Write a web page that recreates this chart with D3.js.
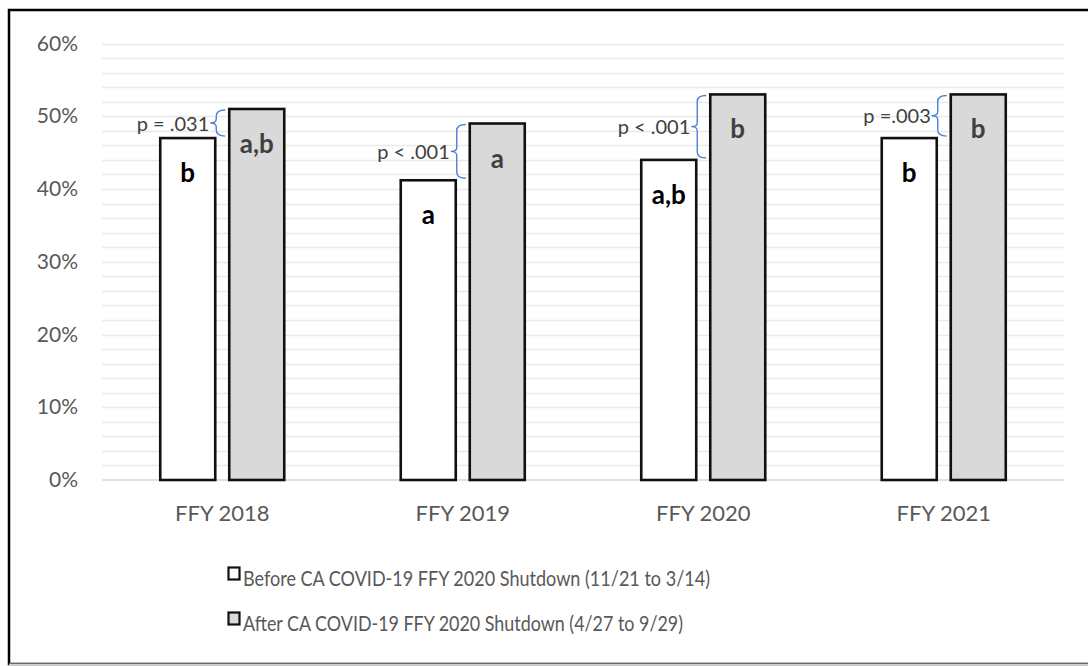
<!DOCTYPE html>
<html>
<head>
<meta charset="utf-8">
<script src="https://cdn.jsdelivr.net/npm/d3@7"></script>
<style>
  body { margin: 0; background: #fff; }
  text { font-family: Lato, "Open Sans", sans-serif; }
</style>
</head>
<body>
<div id="chart"></div>
<script>
const years = ['FFY 2018', 'FFY 2019', 'FFY 2020', 'FFY 2021'];
const series = ['Before CA COVID-19 FFY 2020 Shutdown (11/21 to 3/14)', 'After CA COVID-19 FFY 2020 Shutdown (4/27 to 9/29)'];
const before = [0.47, 0.412, 0.44, 0.47];
const after = [0.51, 0.49, 0.53, 0.53];
const beforeLetters = ['b', 'a', 'a,b', 'b'];
const afterLetters = ['a,b', 'a', 'b', 'b'];
const pLabels = ['p = .031', 'p < .001', 'p < .001', 'p =.003'];
const yTicks = [0, 0.1, 0.2, 0.3, 0.4, 0.5, 0.6];

const width = 1088, height = 666;

const svg = d3.select('#chart').append('svg')
  .attr('width', width)
  .attr('height', height);

// frame
svg.append('rect')
  .attr('x', 9).attr('y', 10)
  .attr('width', 1100).attr('height', 654)
  .attr('fill', 'none')
  .attr('stroke', '#000')
  .attr('stroke-width', 2.5);
svg.append('line')
  .attr('x1', 9).attr('x2', width)
  .attr('y1', 664.5).attr('y2', 664.5)
  .attr('stroke', '#d0d0d0').attr('stroke-width', 2);

const x = d3.scaleBand()
  .domain(years)
  .range([102, 1064]);

const sub = d3.scaleBand()
  .domain(['before', 'after'])
  .range([0, x.bandwidth()])
  .paddingInner(0.203)
  .paddingOuter(0.844);

const y = d3.scaleLinear()
  .domain([0, 0.6])
  .range([480, 43.5]);

// gridlines every 2%
const minor = d3.range(0.02, 0.601, 0.02);
svg.append('g')
  .selectAll('line')
  .data(minor)
  .join('line')
    .attr('x1', 102).attr('x2', 1064)
    .attr('y1', d => Math.round(y(d)) + 0.5)
    .attr('y2', d => Math.round(y(d)) + 0.5)
    .attr('stroke', '#e9e9e9')
    .attr('stroke-width', 1.6);

svg.append('line')
  .attr('x1', 102).attr('x2', 1064)
  .attr('y1', y(0)).attr('y2', y(0))
  .attr('stroke', '#d6d6d6')
  .attr('stroke-width', 1.6);

// y axis labels
svg.append('g')
  .attr('transform', 'translate(78,0)')
  .call(d3.axisLeft(y).tickValues(yTicks).tickFormat(d3.format('.0%')).tickSize(0).tickPadding(0))
  .call(g => g.select('.domain').remove())
  .call(g => g.selectAll('text')
    .attr('fill', '#595959')
    .attr('font-size', 21)
    .style('font-family', 'Lato, "Open Sans", sans-serif'));

// x axis labels
svg.append('g')
  .attr('transform', `translate(0,${y(0)})`)
  .call(d3.axisBottom(x).tickSize(0).tickPadding(25))
  .call(g => g.select('.domain').remove())
  .call(g => g.selectAll('text')
    .attr('fill', '#595959')
    .attr('font-size', 22)
    .style('font-family', 'Lato, "Open Sans", sans-serif'));

const rows = years.map((yr, i) => ({
  yr, before: before[i], after: after[i],
  bl: beforeLetters[i], al: afterLetters[i], p: pLabels[i]
}));

const groups = svg.append('g')
  .selectAll('g')
  .data(rows)
  .join('g')
    .attr('transform', d => `translate(${x(d.yr)},0)`);

// bars
groups.append('rect')
  .attr('x', sub('before'))
  .attr('y', d => y(d.before))
  .attr('width', sub.bandwidth())
  .attr('height', d => y(0) - y(d.before))
  .attr('fill', '#fff')
  .attr('stroke', '#111')
  .attr('stroke-width', 2.6);

groups.append('rect')
  .attr('x', sub('after'))
  .attr('y', d => y(d.after))
  .attr('width', sub.bandwidth())
  .attr('height', d => y(0) - y(d.after))
  .attr('fill', '#d9d9d9')
  .attr('stroke', '#111')
  .attr('stroke-width', 2.6);

// letters in bars
groups.append('text')
  .attr('x', sub('before') + sub.bandwidth() / 2)
  .attr('y', d => y(d.before) + 44)
  .attr('text-anchor', 'middle')
  .attr('font-size', 26)
  .attr('font-weight', 'bold')
  .attr('fill', '#000')
  .text(d => d.bl);

groups.append('text')
  .attr('x', sub('after') + sub.bandwidth() / 2)
  .attr('y', d => y(d.after) + 44)
  .attr('text-anchor', 'middle')
  .attr('font-size', 26)
  .attr('font-weight', 'bold')
  .attr('fill', '#404040')
  .text(d => d.al);

// curly braces + p values
const brace = d => {
  const x0 = sub('after') - 13;
  const y1 = y(d.after) + 1;
  const y2 = y(d.before) - 2;
  const ym = (y1 + y2) / 2;
  return `M${x0 + 9},${y1} Q${x0},${y1} ${x0},${y1 + 6} L${x0},${ym - 4} Q${x0},${ym} ${x0 - 6},${ym}` +
    ` Q${x0},${ym} ${x0},${ym + 4} L${x0},${y2 - 6} Q${x0},${y2} ${x0 + 9},${y2}`;
};

groups.append('path')
  .attr('d', brace)
  .attr('fill', 'none')
  .attr('stroke', '#4f81d0')
  .attr('stroke-width', 1.4);

groups.append('text')
  .attr('x', sub('after') - 20)
  .attr('y', d => (y(d.after) + y(d.before)) / 2)
  .attr('dy', '0.35em')
  .attr('text-anchor', 'end')
  .attr('font-size', 20)
  .attr('fill', '#404040')
  .text(d => d.p);

// legend
const legend = svg.append('g')
  .selectAll('g')
  .data(series)
  .join('g')
    .attr('transform', (d, i) => `translate(228,${567 + i * 45})`);

legend.append('rect')
  .attr('x', 0.5).attr('y', 0.5)
  .attr('width', 11).attr('height', 12)
  .attr('fill', (d, i) => i === 0 ? '#fff' : '#d9d9d9')
  .attr('stroke', '#111')
  .attr('stroke-width', 2.2);

legend.append('text')
  .attr('x', 15)
  .attr('y', 19)
  .attr('font-size', 22)
  .attr('fill', '#595959')
  .attr('textLength', (d, i) => i === 0 ? 467 : 440)
  .attr('lengthAdjust', 'spacingAndGlyphs')
  .text(d => d);
</script>
</body>
</html>
